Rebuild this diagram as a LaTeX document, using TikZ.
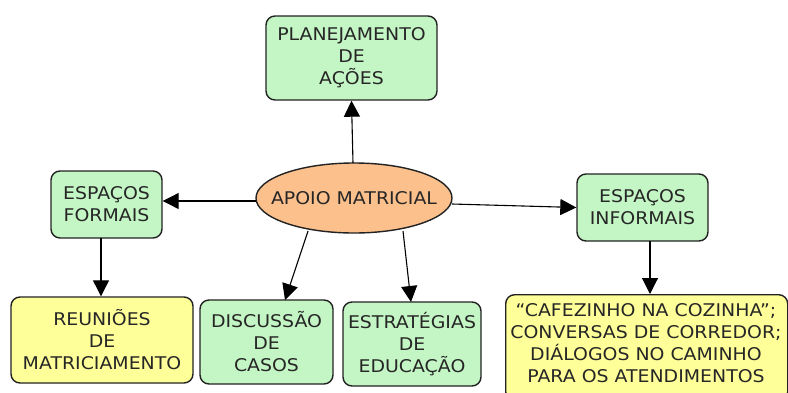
\documentclass[tikz,border=0pt]{standalone}
\usepackage{fontspec}
\setmainfont[FakeStretch=1.08]{DejaVu Sans}
\usetikzlibrary{arrows.meta,shapes.geometric}
\definecolor{boxgreen}{HTML}{C4F5C4}
\definecolor{boxyellow}{HTML}{FFFF99}
\definecolor{ellorange}{HTML}{FBC08C}
\definecolor{edge}{HTML}{222222}
\tikzset{
  txt/.style={font=\fontsize{17.5}{22}\selectfont, text=black!85},
  box/.style={draw=edge, line width=1.4pt, rounded corners=9pt, align=center,
    txt, inner sep=0pt},
  gbox/.style={box, fill=boxgreen},
  ybox/.style={box, fill=boxyellow},
  conn/.style={draw=black, line width=1.1pt, -{Triangle[length=16pt,width=16pt]}}
}
\begin{document}
\begin{tikzpicture}[x=1pt,y=-1pt]
\useasboundingbox (0,0) rectangle (788,392);
\clip (0,0) rectangle (788,392);
\node[ellipse, draw=edge, line width=1.4pt, fill=ellorange, minimum width=196pt, minimum height=70pt, inner sep=0pt] (apoio) at (354,198) {};
\node[txt, inner sep=0pt] (apoiotext) at (apoio.center) {APOIO MATRICIAL};
\node[gbox, minimum width=171pt, minimum height=84pt] (plan) at (351.5,58) {PLANEJAMENTO\\DE\\AÇÕES};
\node[gbox, minimum width=111pt, minimum height=67pt] (formais) at (106.5,204.5) {ESPAÇOS\\FORMAIS};
\node[gbox, minimum width=131pt, minimum height=67pt] (informais) at (642.5,207.5) {ESPAÇOS\\INFORMAIS};
\node[ybox, minimum width=182pt, minimum height=86pt] (reunioes) at (102,340) {REUNIÕES\\DE\\MATRICIAMENTO};
\node[gbox, minimum width=133pt, minimum height=84pt] (discussao) at (266.5,342) {DISCUSSÃO\\DE\\CASOS};
\node[gbox, minimum width=138pt, minimum height=84pt] (estrat) at (412,344) {ESTRATÉGIAS\\DE\\EDUCAÇÃO};
\node[ybox, minimum width=282pt, minimum height=106pt, anchor=north west] (cafe) at (505,294) {};
\node[align=center, txt, inner sep=0pt] (cafetext) at (646,343) {“CAFEZINHO NA COZINHA”;\\CONVERSAS DE CORREDOR;\\DIÁLOGOS NO CAMINHO\\PARA OS ATENDIMENTOS};
\coordinate (a1) at (353,163);
\coordinate (a2) at (256,201);
\coordinate (a3) at (452,204);
\coordinate (a4) at (308,231);
\coordinate (a5) at (403,231);
\draw[conn] (a1) -- (plan.south);
\draw[conn] (a2) -- (a2 -| formais.east);
\draw[conn] (a3) -- (informais.west);
\draw[conn] (a4) -- (285,300);
\draw[conn] (a5) -- (411,302);
\draw[conn] (101,238) -- (reunioes.north -| 101,0);
\draw[conn] (650,241) -- (cafe.north -| 650,0);
\end{tikzpicture}
\end{document}
